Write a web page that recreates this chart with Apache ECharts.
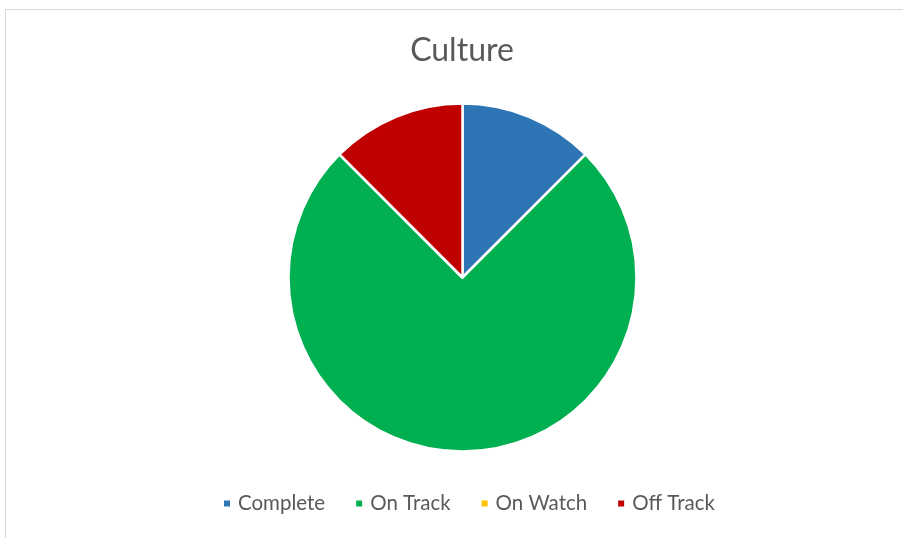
<!DOCTYPE html>
<html><head><meta charset="utf-8">
<script src="https://cdn.jsdelivr.net/npm/echarts@6/dist/echarts.min.js"></script>
<style>html,body{margin:0;padding:0;background:#fff}#c{width:903px;height:538px}</style>
</head><body><div id="c"></div>
<script>
const categories = ['Complete', 'On Track', 'On Watch', 'Off Track'];
const values = [1, 6, 0, 1];
const colors = ['#2E75B6', '#00B050', '#FFC000', '#C00000'];
const titleText = 'Culture';

const chart = echarts.init(document.getElementById('c'), null, {renderer: 'canvas'});
chart.setOption({
  animation: false,
  backgroundColor: '#fff',
  graphic: [{
    type: 'rect', shape: {x: 5.5, y: 9.5, width: 920, height: 560},
    style: {fill: 'none', stroke: '#d9d9d9', lineWidth: 1}, silent: true
  }, {
    type: 'text', silent: true, x: 462, y: 51,
    style: {text: titleText, textAlign: 'center', textVerticalAlign: 'middle', fontFamily: 'Lato', fontSize: 32, fill: '#595959'}
  }],
  legend: {
    bottom: 24, left: 222, padding: 0, itemWidth: 8, itemHeight: 8, itemGap: 29, icon: 'rect',
    textStyle: {fontFamily: 'Lato', fontSize: 20.5, color: '#595959', padding: [0, 0, 0, 2]},
    data: categories
  },
  series: [{
    type: 'pie', center: [462.5, 277.5], radius: 174, startAngle: 90, clockwise: true,
    label: {show: false}, labelLine: {show: false},
    itemStyle: {borderColor: '#fff', borderWidth: 2.5},
    emphasis: {disabled: true},
    data: categories.map((c, i) => ({name: c, value: values[i], itemStyle: {color: colors[i]}}))
  }]
});
</script></body></html>
